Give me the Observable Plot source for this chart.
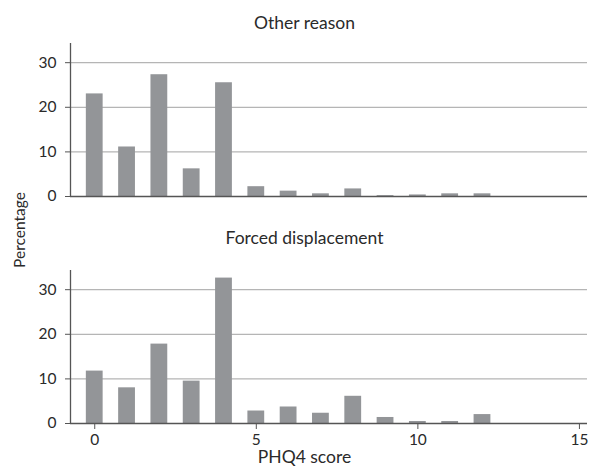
<!DOCTYPE html>
<html>
<head>
<meta charset="utf-8">
<script src="https://cdn.jsdelivr.net/npm/d3@7"></script>
<script src="https://cdn.jsdelivr.net/npm/@observablehq/plot@0.6"></script>
<style>
  html, body { margin: 0; padding: 0; background: #fff; }
  #chart { position: relative; width: 589px; height: 468px; }
  #ylab { position: absolute; left: 19px; top: 230px; transform: translate(-50%, -50%) rotate(-90deg);
          font: 15.5px Lato, sans-serif; color: #2a2a2a; white-space: nowrap; }
</style>
</head>
<body>
<div id="chart"><div id="ylab">Percentage</div></div>
<script>
const groups = ["Other reason", "Forced displacement"];
const scores = [0, 1, 2, 3, 4, 5, 6, 7, 8, 9, 10, 11, 12];
const otherReason = [23.0, 11.1, 27.3, 6.2, 25.5, 2.2, 1.2, 0.6, 1.7, 0.2, 0.35, 0.6, 0.6];
const forcedDisplacement = [11.75, 8.0, 17.8, 9.5, 32.6, 2.8, 3.7, 2.3, 6.1, 1.35, 0.45, 0.45, 2.0];
const xTicks = [0, 5, 10, 15];
const yTicks = [0, 10, 20, 30];
const gridTicks = [10, 20, 30];

const half = 0.26;
const data = [
  ...scores.map((s, i) => ({group: groups[0], score: s, pct: otherReason[i]})),
  ...scores.map((s, i) => ({group: groups[1], score: s, pct: forcedDisplacement[i]}))
];
const xMin = -0.75, xMax = 15.25;

const chart = Plot.plot({
  width: 589,
  height: 468,
  marginLeft: 70,
  marginRight: 2,
  marginTop: 42,
  marginBottom: 45,
  style: {fontFamily: "Lato, sans-serif", fontSize: "15.5px", color: "#2a2a2a", background: "#fff"},
  x: {domain: [xMin, xMax]},
  y: {domain: [0, 34.3]},
  fy: {domain: groups, paddingInner: 0.326, paddingOuter: 0, axis: null},
  marks: [
    Plot.gridY(gridTicks, {stroke: "#b5b5b5", strokeOpacity: 1, strokeWidth: 1.2}),
    Plot.rectY(data, {fy: "group", x1: d => d.score - half, x2: d => d.score + half, y: "pct", fill: "#939598"}),
    Plot.ruleY([0], {stroke: "#555", strokeWidth: 1.3}),
    Plot.ruleX([xMin], {stroke: "#555", strokeWidth: 1.3}),
    Plot.axisY(yTicks, {tickSize: 5, tickPadding: 9, label: null, stroke: "#555", fill: "#2a2a2a"}),
    Plot.axisX(xTicks, {tickSize: 6, tickPadding: 4, label: null, stroke: "#555", fill: "#2a2a2a"}),
    Plot.text([groups[0]], {fy: d => d, text: d => d, frameAnchor: "top", lineAnchor: "middle", dy: -20, dx: -24.5, fontSize: 17.5, fill: "#2a2a2a"}),
    Plot.text([groups[1]], {fy: d => d, text: d => d, frameAnchor: "top", lineAnchor: "middle", dy: -32, dx: -24.5, fontSize: 17.5, fill: "#2a2a2a"}),
    Plot.text(["PHQ4 score"], {fy: () => groups[1], text: d => d, frameAnchor: "bottom", lineAnchor: "middle", dy: 34, dx: -24.5, fontSize: 17.5, fill: "#2a2a2a"})
  ]
});
document.getElementById("chart").appendChild(chart);
</script>
</body>
</html>
